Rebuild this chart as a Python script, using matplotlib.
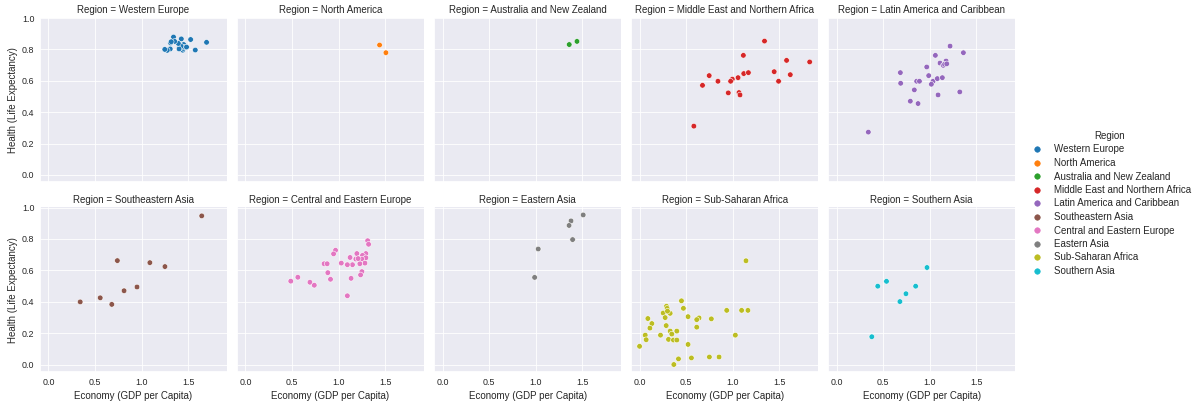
import matplotlib
matplotlib.use("Agg")
import matplotlib.pyplot as plt
import pandas as pd
import seaborn as sns

# Economy (GDP per Capita) / Health (Life Expectancy) per region
western_europe_econ = [1.442, 1.527, 1.427, 1.577, 1.406, 1.465, 1.452, 1.450, 1.448, 1.425, 1.483,
                       1.698, 1.403, 1.395, 1.343, 1.308, 1.355, 1.311, 1.319, 1.276, 1.249]
western_europe_health = [0.795, 0.863, 0.867, 0.796, 0.811, 0.812, 0.831, 0.806, 0.815, 0.820, 0.815,
                         0.845, 0.803, 0.838, 0.879, 0.803, 0.851, 0.841, 0.849, 0.794, 0.800]

north_america_econ = [1.440, 1.508]
north_america_health = [0.828, 0.779]

anz_econ = [1.444, 1.361]
anz_health = [0.851, 0.831]

mena_econ = [1.342, 1.115, 1.579, 1.827, 0.748, 0.842, 0.676, 0.996, 0.978, 1.058,
             1.119, 1.169, 1.446, 1.493, 1.619, 0.953, 1.068, 1.079, 0.583]
mena_health = [0.853, 0.762, 0.730, 0.720, 0.633, 0.597, 0.571, 0.610, 0.597, 0.620,
               0.646, 0.652, 0.658, 0.597, 0.639, 0.523, 0.525, 0.510, 0.311]

latam_econ = [1.219, 1.362, 1.061, 1.111, 1.176, 1.147, 1.160, 0.968, 0.685, 0.989, 0.688, 0.860,
              0.890, 1.036, 1.082, 1.136, 1.018, 0.835, 1.090, 1.323, 0.792, 0.875, 0.341, 1.183]
latam_health = [0.821, 0.779, 0.762, 0.713, 0.726, 0.698, 0.705, 0.688, 0.652, 0.633, 0.584, 0.597,
                0.597, 0.597, 0.614, 0.620, 0.578, 0.542, 0.510, 0.529, 0.470, 0.455, 0.273, 0.708]

se_asia_econ = [1.646, 0.740, 1.089, 1.251, 0.951, 0.812, 0.556, 0.680, 0.341]
se_asia_health = [0.947, 0.662, 0.649, 0.624, 0.494, 0.470, 0.425, 0.383, 0.399]

ce_europe_econ = [1.312, 1.322, 1.293, 1.257, 1.293, 1.250, 1.196, 1.185, 1.123, 1.283, 1.228,
                  1.149, 1.094, 1.029, 0.967, 0.946, 0.844, 0.877, 0.884, 0.913, 1.250, 1.236,
                  1.134, 1.094, 0.486, 0.562, 0.692, 0.739, 1.210]
ce_europe_health = [0.789, 0.766, 0.707, 0.695, 0.680, 0.672, 0.707, 0.672, 0.682, 0.646, 0.642,
                    0.636, 0.636, 0.646, 0.728, 0.705, 0.642, 0.642, 0.585, 0.543, 0.592, 0.571,
                    0.549, 0.438, 0.531, 0.556, 0.524, 0.505, 0.675]

e_asia_econ = [1.511, 1.380, 1.359, 1.397, 1.028, 0.989]
e_asia_health = [0.953, 0.915, 0.886, 0.796, 0.736, 0.555]

ss_africa_econ = [1.143, 0.450, 0.471, 0.289, 0.296, 0.254, 0.329, 0.275, 0.521, 0.936, 1.096, 1.164,
                  0.089, 0.132, 0.111, 0.286, 0.639, 0.614, 0.771, 0.614, 0.329, 0.400, 0.346, 0.061,
                  0.225, 0.311, 0.364, 0.400, 1.029, 0.071, 0.000, 0.521, 0.557, 0.418, 0.368, 0.750,
                  0.854, 0.300]
ss_africa_health = [0.661, 0.406, 0.358, 0.371, 0.358, 0.328, 0.326, 0.299, 0.305, 0.345, 0.345, 0.345,
                    0.293, 0.261, 0.232, 0.248, 0.297, 0.286, 0.291, 0.238, 0.213, 0.213, 0.194, 0.187,
                    0.187, 0.160, 0.156, 0.156, 0.187, 0.158, 0.116, 0.128, 0.042, 0.036, 0.000, 0.048,
                    0.048, 0.340]

s_asia_econ = [0.971, 0.536, 0.442, 0.849, 0.745, 0.680, 0.378]
s_asia_health = [0.618, 0.530, 0.499, 0.499, 0.451, 0.401, 0.177]

regions = [
    ("Western Europe", western_europe_econ, western_europe_health),
    ("North America", north_america_econ, north_america_health),
    ("Australia and New Zealand", anz_econ, anz_health),
    ("Middle East and Northern Africa", mena_econ, mena_health),
    ("Latin America and Caribbean", latam_econ, latam_health),
    ("Southeastern Asia", se_asia_econ, se_asia_health),
    ("Central and Eastern Europe", ce_europe_econ, ce_europe_health),
    ("Eastern Asia", e_asia_econ, e_asia_health),
    ("Sub-Saharan Africa", ss_africa_econ, ss_africa_health),
    ("Southern Asia", s_asia_econ, s_asia_health),
]

rows = []
for name, econ, health in regions:
    for e, h in zip(econ, health):
        rows.append({"Region": name, "Economy (GDP per Capita)": e, "Health (Life Expectancy)": h})
df = pd.DataFrame(rows)

sns.set_theme(style="darkgrid")
plt.rcParams["font.family"] = ["Liberation Sans", "DejaVu Sans"]
plt.rcParams.update({
    "axes.titlesize": 7,
    "axes.titlepad": 3.5,
    "axes.labelsize": 7,
    "axes.labelpad": 3,
    "xtick.labelsize": 6.4,
    "ytick.labelsize": 6.4,
    "xtick.major.size": 0,
    "ytick.major.size": 0,
    "xtick.major.pad": 4,
    "ytick.major.pad": 4,
    "legend.fontsize": 7,
    "legend.title_fontsize": 7,
    "legend.labelspacing": 0.36,
    "grid.linewidth": 0.6,
})

g = sns.relplot(
    data=df, x="Economy (GDP per Capita)", y="Health (Life Expectancy)",
    hue="Region", col="Region", col_wrap=5, palette="tab10",
    height=2, aspect=1, s=16, linewidth=0.4,
)
fig = g.figure
fig.set_size_inches(12, 4.07)
fig.subplots_adjust(left=0.0333, right=0.846, top=0.956, bottom=0.086, wspace=0.053, hspace=0.152)
g.set(xticks=[0.0, 0.5, 1.0, 1.5], yticks=[0.0, 0.2, 0.4, 0.6, 0.8, 1.0])

leg = g._legend
leg.set_bbox_to_anchor((1.0, 0.5), transform=fig.transFigure)

fig.savefig("out.png", dpi=100)
